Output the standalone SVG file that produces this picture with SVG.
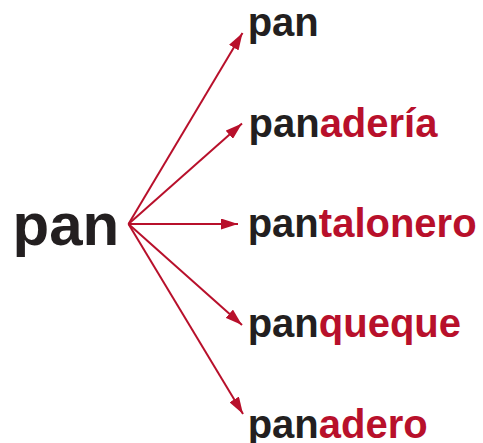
<svg xmlns="http://www.w3.org/2000/svg" width="483" height="443" viewBox="0 0 483 443">
<style>
.t{font-family:"Liberation Sans",Arial,Helvetica,sans-serif;font-weight:bold;fill:#231f20}
.r{fill:#b8102b}
.big{font-size:60px}
.sm{font-size:40px}
.c{stroke:#b8102b;stroke-width:2;fill:none;marker-end:url(#ah)}
</style>
<defs>
<marker id="ah" markerUnits="userSpaceOnUse" markerWidth="17" markerHeight="11" refX="17" refY="5.5" orient="auto" viewBox="0 0 17 11">
<path d="M0,0 L17,5.5 L0,11 Z" fill="#b8102b"/>
</marker>
</defs>
<rect width="483" height="443" fill="#ffffff"/>
<g id="root"><text class="t big" x="12.6" y="245">pan</text></g>
<g id="connectors">
<line class="c" x1="128.5" y1="224" x2="242.5" y2="33"/>
<line class="c" x1="128.5" y1="224" x2="242" y2="123.5"/>
<line class="c" x1="128.5" y1="224" x2="238" y2="224"/>
<line class="c" x1="128.5" y1="224" x2="242" y2="325"/>
<line class="c" x1="128.5" y1="224" x2="243" y2="414"/>
</g>
<g id="n1"><text class="t sm" x="247.7" y="36">pan</text></g>
<g id="n2"><text class="t sm" x="248.5" y="136.5">pan<tspan class="r">adería</tspan></text></g>
<g id="n3"><text class="t sm" x="247.7" y="236.5">pan<tspan class="r">talonero</tspan></text></g>
<g id="n4"><text class="t sm" x="247.7" y="337">pan<tspan class="r">queque</tspan></text></g>
<g id="n5"><text class="t sm" x="247.7" y="438">pan<tspan class="r">adero</tspan></text></g>
</svg>
